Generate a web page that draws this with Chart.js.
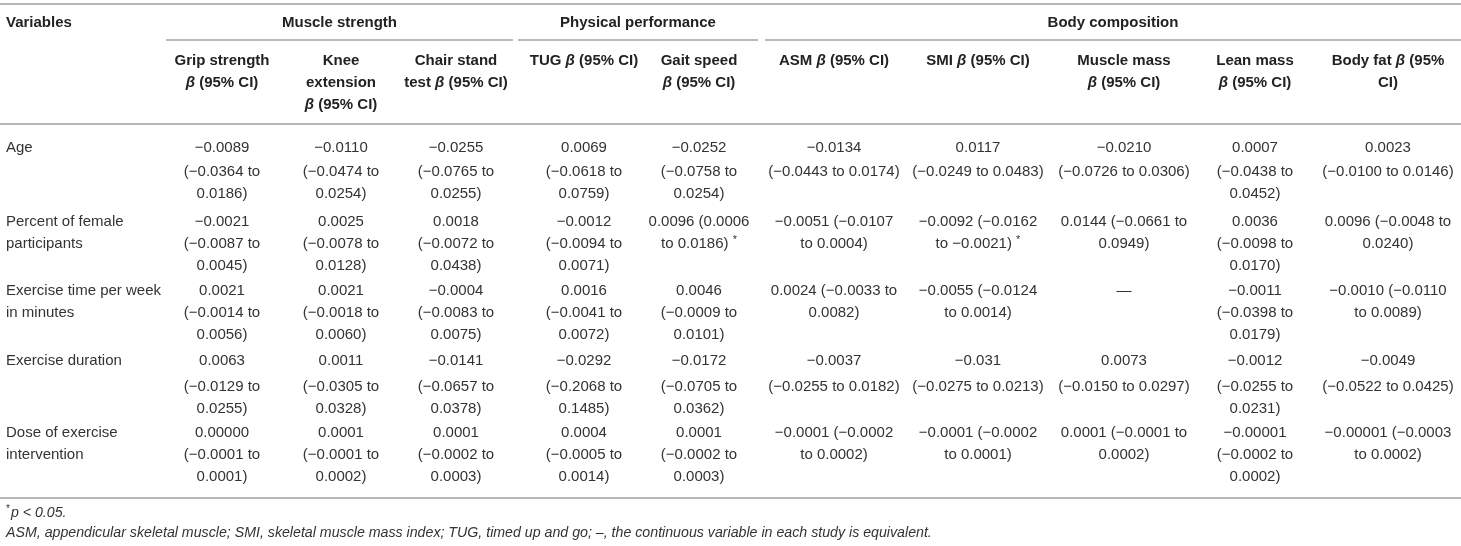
<!DOCTYPE html>
<html>
<head>
<meta charset="utf-8">
<script src="https://cdn.jsdelivr.net/npm/chart.js@4.4.0/dist/chart.umd.min.js"></script>
<style>
  html, body { margin: 0; padding: 0; background: #fff; }
  #wrap { position: relative; width: 1461px; height: 546px; }
</style>
</head>
<body>
<div id="wrap"><canvas id="myChart"></canvas></div>
<script>
// table content
const groups = ['Muscle strength', 'Physical performance', 'Body composition'];

const columns = [
  'Grip strength\nβ (95% CI)',
  'Knee\nextension\nβ (95% CI)',
  'Chair stand\ntest β (95% CI)',
  'TUG β (95% CI)',
  'Gait speed\nβ (95% CI)',
  'ASM β (95% CI)',
  'SMI β (95% CI)',
  'Muscle mass\nβ (95% CI)',
  'Lean mass\nβ (95% CI)',
  'Body fat β (95%\nCI)'
];

const variables = [
  'Age',
  'Percent of female\nparticipants',
  'Exercise time per week\nin minutes',
  'Exercise duration',
  'Dose of exercise\nintervention'
];

const age = [
  '−0.0089\n(−0.0364 to\n0.0186)', '−0.0110\n(−0.0474 to\n0.0254)', '−0.0255\n(−0.0765 to\n0.0255)',
  '0.0069\n(−0.0618 to\n0.0759)', '−0.0252\n(−0.0758 to\n0.0254)', '−0.0134\n(−0.0443 to 0.0174)',
  '0.0117\n(−0.0249 to 0.0483)', '−0.0210\n(−0.0726 to 0.0306)', '0.0007\n(−0.0438 to\n0.0452)',
  '0.0023\n(−0.0100 to 0.0146)'
];
const female = [
  '−0.0021\n(−0.0087 to\n0.0045)', '0.0025\n(−0.0078 to\n0.0128)', '0.0018\n(−0.0072 to\n0.0438)',
  '−0.0012\n(−0.0094 to\n0.0071)', '0.0096 (0.0006\nto 0.0186) *', '−0.0051 (−0.0107\nto 0.0004)',
  '−0.0092 (−0.0162\nto −0.0021) *', '0.0144 (−0.0661 to\n0.0949)', '0.0036\n(−0.0098 to\n0.0170)',
  '0.0096 (−0.0048 to\n0.0240)'
];
const exerciseTime = [
  '0.0021\n(−0.0014 to\n0.0056)', '0.0021\n(−0.0018 to\n0.0060)', '−0.0004\n(−0.0083 to\n0.0075)',
  '0.0016\n(−0.0041 to\n0.0072)', '0.0046\n(−0.0009 to\n0.0101)', '0.0024 (−0.0033 to\n0.0082)',
  '−0.0055 (−0.0124\nto 0.0014)', '—', '−0.0011\n(−0.0398 to\n0.0179)',
  '−0.0010 (−0.0110\nto 0.0089)'
];
const duration = [
  '0.0063\n(−0.0129 to\n0.0255)', '0.0011\n(−0.0305 to\n0.0328)', '−0.0141\n(−0.0657 to\n0.0378)',
  '−0.0292\n(−0.2068 to\n0.1485)', '−0.0172\n(−0.0705 to\n0.0362)', '−0.0037\n(−0.0255 to 0.0182)',
  '−0.031\n(−0.0275 to 0.0213)', '0.0073\n(−0.0150 to 0.0297)', '−0.0012\n(−0.0255 to\n0.0231)',
  '−0.0049\n(−0.0522 to 0.0425)'
];
const dose = [
  '0.00000\n(−0.0001 to\n0.0001)', '0.0001\n(−0.0001 to\n0.0002)', '0.0001\n(−0.0002 to\n0.0003)',
  '0.0004\n(−0.0005 to\n0.0014)', '0.0001\n(−0.0002 to\n0.0003)', '−0.0001 (−0.0002\nto 0.0002)',
  '−0.0001 (−0.0002\nto 0.0001)', '0.0001 (−0.0001 to\n0.0002)', '−0.00001\n(−0.0002 to\n0.0002)',
  '−0.00001 (−0.0003\nto 0.0002)'
];
const rows = [age, female, exerciseTime, duration, dose];

const footnotes = ['p < 0.05.',
  'ASM, appendicular skeletal muscle; SMI, skeletal muscle mass index; TUG, timed up and go; –, the continuous variable in each study is equivalent.'];

// layout (table units on the x / y scales)
const W = 1461, H = 546;
const colX = [6, 222, 341, 456, 584, 699, 834, 978, 1124, 1255, 1388];
const groupSpans = [[166, 513], [518, 758], [765, 1461]];
const rowY = [148, 222, 291, 361, 433];
const firstGap = [2, 0, 0, 4, 0];
const lineH = 22;
const titleY = 23, colHeadY = 61;
const ruleY = { top: 4, group: 40, head: 124, bottom: 498 };
const footY = [513, 533];

const FONT = '"Liberation Sans", Arial, sans-serif';
const SIZE = 15;
const FOOT_SIZE = 14.2;

// rules drawn as line datasets
const rules = [
  [0, W, ruleY.top],
  ...groupSpans.map(s => [s[0], s[1], ruleY.group]),
  [0, W, ruleY.head],
  [0, W, ruleY.bottom]
];
const ruleSets = rules.map(r => ({
  type: 'line',
  data: [{ x: r[0], y: r[2] }, { x: r[1], y: r[2] }],
  borderColor: '#b8b8b8',
  borderWidth: 2,
  pointRadius: 0,
  showLine: true,
  clip: false
}));

function drawText(ctx, str, x, y, align, bold, size, italicAll) {
  let star = false;
  if (str.endsWith(' *')) { str = str.slice(0, -1); star = true; }
  const parts = str.split(/(β)/).filter(p => p.length);
  const fontFor = p => ((p === 'β' || italicAll) ? 'italic ' : '') + (bold ? 'bold ' : '') + size + 'px ' + FONT;
  const starFont = Math.round(size * 0.7) + 'px ' + FONT;
  let w = 0;
  parts.forEach(p => { ctx.font = fontFor(p); w += ctx.measureText(p).width; });
  if (star) { ctx.font = starFont; w += ctx.measureText('*').width; }
  let cx = align === 'center' ? x - w / 2 : x;
  ctx.textAlign = 'left';
  ctx.textBaseline = 'middle';
  parts.forEach(p => {
    ctx.font = fontFor(p);
    ctx.fillText(p, cx, y);
    cx += ctx.measureText(p).width;
  });
  if (star) { ctx.font = starFont; ctx.fillText('*', cx, y - 4); }
}

const tableText = {
  id: 'tableText',
  afterDatasetsDraw(chart) {
    const ctx = chart.ctx;
    const sx = v => chart.scales.x.getPixelForValue(v);
    const sy = v => chart.scales.y.getPixelForValue(v);
    ctx.save();

    // header row 1
    ctx.fillStyle = '#222';
    drawText(ctx, 'Variables', sx(colX[0]), sy(titleY), 'left', true, SIZE);
    groups.forEach((g, i) => {
      const mid = (groupSpans[i][0] + groupSpans[i][1]) / 2;
      drawText(ctx, g, sx(mid), sy(titleY), 'center', true, SIZE);
    });

    // header row 2
    columns.forEach((c, i) => {
      c.split('\n').forEach((ln, k) => {
        drawText(ctx, ln, sx(colX[i + 1]), sy(colHeadY + k * lineH), 'center', true, SIZE);
      });
    });

    // body
    ctx.fillStyle = '#333';
    rows.forEach((cells, r) => {
      variables[r].split('\n').forEach((ln, k) => {
        drawText(ctx, ln, sx(colX[0]), sy(rowY[r] + k * lineH), 'left', false, SIZE);
      });
      cells.forEach((cell, c) => {
        cell.split('\n').forEach((ln, k) => {
          const y = rowY[r] + k * lineH + (k > 0 ? firstGap[r] : 0);
          drawText(ctx, ln, sx(colX[c + 1]), sy(y), 'center', false, SIZE);
        });
      });
    });

    // footnotes
    ctx.font = Math.round(FOOT_SIZE * 0.7) + 'px ' + FONT;
    ctx.textBaseline = 'middle';
    ctx.textAlign = 'left';
    ctx.fillText('*', sx(colX[0]), sy(footY[0]) - 4);
    const starW = ctx.measureText('*').width;
    drawText(ctx, footnotes[0], sx(colX[0]) + starW + 1, sy(footY[0]), 'left', false, FOOT_SIZE, true);
    drawText(ctx, footnotes[1], sx(colX[0]), sy(footY[1]), 'left', false, FOOT_SIZE, true);

    ctx.restore();
  }
};

const config = {
  type: 'scatter',
  data: { datasets: ruleSets },
  options: {
    responsive: true,
    maintainAspectRatio: false,
    animation: false,
    layout: { padding: 0 },
    plugins: { legend: { display: false }, tooltip: { enabled: false } },
    scales: {
      x: { type: 'linear', min: 0, max: W, display: false },
      y: { type: 'linear', min: 0, max: H, reverse: true, display: false }
    }
  },
  plugins: [tableText]
};

const myChart = new Chart(document.getElementById('myChart'), config);
</script>
</body>
</html>
